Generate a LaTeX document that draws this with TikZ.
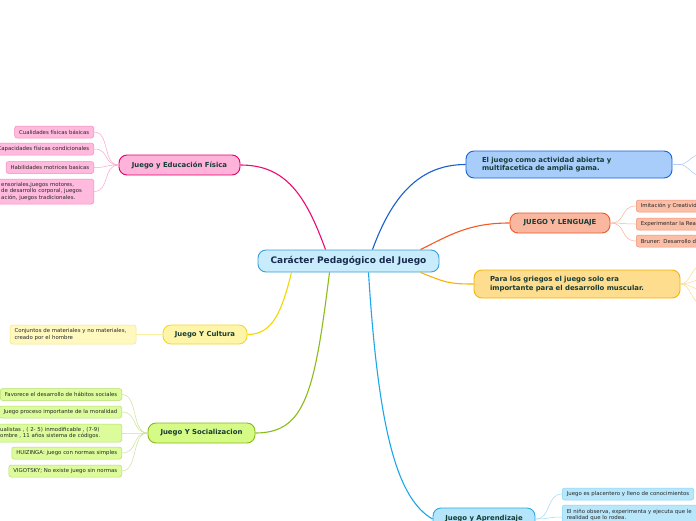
\documentclass[tikz,border=0pt]{standalone}
\usepackage{fontspec}
\setmainfont{DejaVu Sans}
\definecolor{lbl}{HTML}{173C36}
\definecolor{ctxt}{HTML}{172B4D}
\definecolor{leaftxt}{HTML}{262626}
\definecolor{cfill}{HTML}{C9ECFC}\definecolor{cdraw}{HTML}{3B9FD9}
\definecolor{pkfill}{HTML}{FFB3DA}\definecolor{pkdraw}{HTML}{E0006B}\definecolor{pkline}{HTML}{EE0A72}
\definecolor{pklfill}{HTML}{FFBADD}\definecolor{pkldraw}{HTML}{F58CC0}\definecolor{pklline}{HTML}{F9A6CF}
\definecolor{yefill}{HTML}{FFF5A8}\definecolor{yedraw}{HTML}{F0D830}\definecolor{yeline}{HTML}{F0D800}
\definecolor{yelfill}{HTML}{FFF8BF}\definecolor{yeldraw}{HTML}{F7E58A}\definecolor{yelline}{HTML}{FBEFA0}
\definecolor{grfill}{HTML}{D6FA86}\definecolor{grdraw}{HTML}{86BB17}\definecolor{grline}{HTML}{8BBD19}
\definecolor{grlfill}{HTML}{DCFC9C}\definecolor{grldraw}{HTML}{B8DD6A}\definecolor{grlline}{HTML}{CCE39A}
\definecolor{blfill}{HTML}{A9CDFB}\definecolor{bldraw}{HTML}{1664D9}\definecolor{blline}{HTML}{1A5FD0}\definecolor{bllline}{HTML}{A8C8F5}
\definecolor{safill}{HTML}{F9B7A0}\definecolor{sadraw}{HTML}{EA5A2C}\definecolor{saline}{HTML}{F15A24}
\definecolor{salfill}{HTML}{FBBFA8}\definecolor{saldraw}{HTML}{F09070}\definecolor{salline}{HTML}{F7B49A}
\definecolor{orfill}{HTML}{FEDD8E}\definecolor{ordraw}{HTML}{F7B500}\definecolor{orline}{HTML}{F8B300}\definecolor{orlline}{HTML}{FDDC8A}
\definecolor{apfill}{HTML}{B5E5FA}\definecolor{apdraw}{HTML}{2AA8E6}\definecolor{apline}{HTML}{1EA6EA}
\definecolor{aplfill}{HTML}{B8E7FB}\definecolor{apldraw}{HTML}{8AD4F3}\definecolor{aplline}{HTML}{9BD9F5}
\tikzset{
 mainbox/.style={draw, rounded corners=8pt, line width=0.9pt, font=\bfseries\fontsize{6.9}{8.2}\selectfont, text=lbl, inner sep=0pt},
 leaf/.style={draw, rounded corners=2.5pt, line width=0.5pt, font=\fontsize{5.4}{6.4}\selectfont, text=leaftxt, inner xsep=4.5pt, inner ysep=0pt, minimum height=12pt},
 mainlink/.style={line width=1.1pt},
 leaflink/.style={line width=0.5pt},
}
\begin{document}
\begin{tikzpicture}[x=1pt,y=-1pt]
\useasboundingbox (0,0) rectangle (696,520);
\clip (0,0) rectangle (696,520);
\fill[white] (0,0) rectangle (696,520);

% central
\node[mainbox, fill=cfill, draw=cdraw, text=ctxt, font=\bfseries\fontsize{9}{11}\selectfont, minimum width=181pt, minimum height=22pt] (c) at (348.5,261) {Carácter Pedagógico del Juego};

% Educacion fisica
\node[mainbox, fill=pkfill, draw=pkdraw, minimum width=121pt, minimum height=20pt] (fis) at (179.5,165) {Juego y Educación Física};
\node[leaf, fill=pklfill, draw=pkldraw, anchor=east] (f1) at (94,132) {Cualidades físicas básicas};
\node[leaf, fill=pklfill, draw=pkldraw, anchor=east] (f2) at (94,149) {Capacidades físicas condicionales};
\node[leaf, fill=pklfill, draw=pkldraw, anchor=east] (f3) at (94,167.5) {Habilidades motrices basicas};
\node[leaf, fill=pklfill, draw=pkldraw, anchor=east, text width=88pt, align=left, minimum height=25pt] (f4) at (94,191.5) {ensoriales,juegos motores,\\de desarrollo corporal, juegos\\ación, juegos tradicionales.};
\foreach \n in {f1,f2,f3,f4}{\draw[leaflink, pklline] (fis.west) .. controls +(-16,0) and +(16,0) .. (\n.east);}

% Cultura
\node[mainbox, fill=yefill, draw=yedraw, minimum width=84pt, minimum height=19pt] (cul) at (205,334.5) {Juego Y Cultura};
\node[leaf, fill=yelfill, draw=yeldraw, text width=117pt, align=left, minimum height=19pt] (cu1) at (73,334.5) {Conjuntos de materiales y no materiales,\\creado por el hombre};
\draw[leaflink, yelline] (cul.west) -- (cu1.east);

% Socializacion
\node[mainbox, fill=grfill, draw=grdraw, minimum width=107pt, minimum height=20pt] (soc) at (201.5,433) {Juego Y Socializacion};
\node[leaf, fill=grlfill, draw=grldraw, anchor=east] (s1) at (122,394.5) {Favorece el desarrollo de hábitos sociales};
\node[leaf, fill=grlfill, draw=grldraw, anchor=east] (s2) at (122,412) {Juego proceso importante de la moralidad};
\node[leaf, fill=grlfill, draw=grldraw, anchor=east, text width=117pt, align=left, minimum height=18pt] (s3) at (122,433) {ualistas , ( 2- 5) inmodificable , (7-9)\\ombre , 11 años sistema de códigos.};
\node[leaf, fill=grlfill, draw=grldraw, anchor=east] (s4) at (122,453) {HUIZINGA: juego con normas simples};
\node[leaf, fill=grlfill, draw=grldraw, anchor=east] (s5) at (122,471) {VIGOTSKY; No existe juego sin normas};
\foreach \n in {s1,s2,s3,s4,s5}{\draw[leaflink, grlline] (soc.west) .. controls +(-16,0) and +(16,0) .. (\n.east);}

% El juego como actividad
\node[mainbox, fill=blfill, draw=bldraw, inner xsep=16pt, text width=174pt, align=left, minimum height=27pt] (el) at (569,164.5) {El juego como actividad abierta y\\multifacetica de amplia gama.};
\coordinate (el1) at (700,154);
\coordinate (el2) at (700,176);
\draw[leaflink, bllline] (el.east) -- +(8,0) .. controls +(6,0) and +(-6,0) .. (el1);
\draw[leaflink, bllline] (el.east) -- +(8,0) .. controls +(6,0) and +(-6,0) .. (el2);

% Lenguaje
\node[mainbox, fill=safill, draw=sadraw, minimum width=100pt, minimum height=20pt] (len) at (560,223) {JUEGO Y LENGUAJE};
\node[leaf, fill=salfill, draw=saldraw, anchor=west, text width=100pt, align=left] (l1) at (636,206) {Imitación y Creatividad};
\node[leaf, fill=salfill, draw=saldraw, anchor=west, text width=100pt, align=left] (l2) at (636,224) {Experimentar la Realidad};
\node[leaf, fill=salfill, draw=saldraw, anchor=west, text width=100pt, align=left] (l3) at (636,241) {Bruner: Desarrollo del};
\foreach \n in {l1,l2,l3}{\draw[leaflink, salline] (len.east) .. controls +(16,0) and +(-16,0) .. (\n.west);}

% Griegos
\node[mainbox, fill=orfill, draw=ordraw, inner xsep=16pt, text width=174pt, align=left, minimum height=28pt] (gr) at (577,284) {Para los griegos el juego solo era\\importante para el desarrollo muscular.};
\coordinate (g1) at (700,266);
\coordinate (g2) at (700,280);
\coordinate (g3) at (700,289);
\coordinate (g4) at (700,303);
\foreach \n in {g1,g2,g3,g4}{\draw[leaflink, orlline] (gr.east) .. controls +(10,0) and +(-8,0) .. (\n);}

% Aprendizaje
\node[mainbox, fill=apfill, draw=apdraw, minimum width=102pt, minimum height=22pt] (ap) at (484,519) {Juego y Aprendizaje};
\node[leaf, fill=aplfill, draw=apldraw, anchor=west] (a1) at (562,494) {Juego es placentero y lleno de conocimientos};
\node[leaf, fill=aplfill, draw=apldraw, anchor=west, text width=150pt, align=left, minimum height=20pt] (a2) at (562,515) {El niño observa, experimenta y ejecuta que le\\realidad que lo rodea.};
\draw[leaflink, aplline] (ap.east) .. controls +(16,0) and +(-16,0) .. (a1.west);
\draw[leaflink, aplline] (ap.east) .. controls +(16,0) and +(-16,0) .. ([yshift=-2pt]a2.west);

% main links
\draw[mainlink, pkline] ([xshift=-23pt]c.north) .. controls +(-20,-55) and +(45,0) .. (fis.east);
\draw[mainlink, blline] ([xshift=24pt]c.north) .. controls +(20,-55) and +(-45,0) .. (el.west);
\draw[mainlink, saline] ([xshift=72pt]c.north) .. controls +(30,-15) and +(-40,0) .. (len.west);
\draw[mainlink, orline] ([xshift=72pt]c.south) .. controls +(25,10) and +(-25,0) .. (gr.west);
\draw[mainlink, apline] ([xshift=20pt]c.south) .. controls +(10,160) and +(-35,-20) .. (ap.west);
\draw[mainlink, yeline] ([xshift=-57pt]c.south) .. controls +(-10,40) and +(25,0) .. (cul.east);
\draw[mainlink, grline] ([xshift=-19pt]c.south) .. controls +(-15,120) and +(50,0) .. (soc.east);
\end{tikzpicture}
\end{document}
